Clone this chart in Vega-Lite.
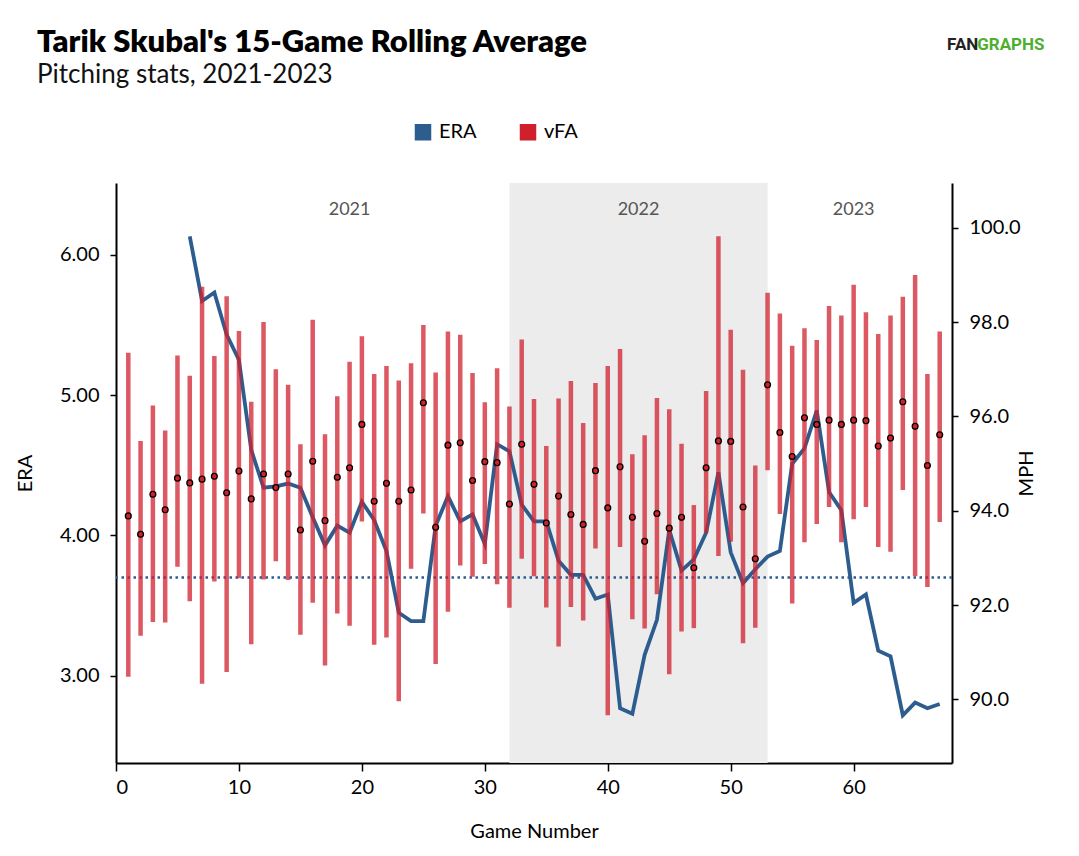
{
  "$schema": "https://vega.github.io/schema/vega-lite/v6.json",
  "width": 836,
  "height": 580,
  "autosize": {"type": "none"},
  "padding": {"left": 116, "top": 183, "right": 127, "bottom": 93},
  "background": "white",
  "title": {
    "text": "Tarik Skubal's 15-Game Rolling Average",
    "subtitle": "Pitching stats, 2021-2023",
    "anchor": "start",
    "frame": "group",
    "dx": -79,
    "offset": -53,
    "font": "Lato",
    "fontSize": 31,
    "fontWeight": 800,
    "color": "#000000",
    "subtitleFont": "Lato",
    "subtitleFontSize": 26,
    "subtitleColor": "#111111",
    "subtitlePadding": 3
  },
  "datasets": {
    "games": [
      {"g": 1, "era": null, "vfa": 93.89, "lo": 90.48, "hi": 97.35},
      {"g": 2, "era": null, "vfa": 93.50, "lo": 91.35, "hi": 95.48},
      {"g": 3, "era": null, "vfa": 94.35, "lo": 91.64, "hi": 96.23},
      {"g": 4, "era": null, "vfa": 94.02, "lo": 91.63, "hi": 95.70},
      {"g": 5, "era": null, "vfa": 94.69, "lo": 92.81, "hi": 97.29},
      {"g": 6, "era": 6.13, "vfa": 94.59, "lo": 92.08, "hi": 96.86},
      {"g": 7, "era": 5.67, "vfa": 94.67, "lo": 90.33, "hi": 98.75},
      {"g": 8, "era": 5.73, "vfa": 94.73, "lo": 92.50, "hi": 97.28},
      {"g": 9, "era": 5.43, "vfa": 94.38, "lo": 90.58, "hi": 98.55},
      {"g": 10, "era": 5.25, "vfa": 94.84, "lo": 92.57, "hi": 97.81},
      {"g": 11, "era": 4.61, "vfa": 94.25, "lo": 91.17, "hi": 96.31},
      {"g": 12, "era": 4.34, "vfa": 94.78, "lo": 92.54, "hi": 98.00},
      {"g": 13, "era": 4.35, "vfa": 94.49, "lo": 92.93, "hi": 97.00},
      {"g": 14, "era": 4.37, "vfa": 94.78, "lo": 92.53, "hi": 96.67},
      {"g": 15, "era": 4.34, "vfa": 93.59, "lo": 91.37, "hi": 95.41},
      {"g": 16, "era": 4.13, "vfa": 95.05, "lo": 92.05, "hi": 98.05},
      {"g": 17, "era": 3.93, "vfa": 93.79, "lo": 90.72, "hi": 95.62},
      {"g": 18, "era": 4.07, "vfa": 94.71, "lo": 91.82, "hi": 96.43},
      {"g": 19, "era": 4.02, "vfa": 94.91, "lo": 91.56, "hi": 97.16},
      {"g": 20, "era": 4.24, "vfa": 95.83, "lo": 93.77, "hi": 97.70},
      {"g": 21, "era": 4.11, "vfa": 94.20, "lo": 91.16, "hi": 96.90},
      {"g": 22, "era": 3.89, "vfa": 94.58, "lo": 91.31, "hi": 97.07},
      {"g": 23, "era": 3.45, "vfa": 94.20, "lo": 89.96, "hi": 96.76},
      {"g": 24, "era": 3.39, "vfa": 94.44, "lo": 92.77, "hi": 97.13},
      {"g": 25, "era": 3.39, "vfa": 96.29, "lo": 93.94, "hi": 97.94},
      {"g": 26, "era": 4.07, "vfa": 93.65, "lo": 90.75, "hi": 96.93},
      {"g": 27, "era": 4.28, "vfa": 95.39, "lo": 91.86, "hi": 97.80},
      {"g": 28, "era": 4.10, "vfa": 95.44, "lo": 92.84, "hi": 97.73},
      {"g": 29, "era": 4.15, "vfa": 94.64, "lo": 92.60, "hi": 96.92},
      {"g": 30, "era": 3.94, "vfa": 95.04, "lo": 92.87, "hi": 96.30},
      {"g": 31, "era": 4.65, "vfa": 95.02, "lo": 92.44, "hi": 97.02},
      {"g": 32, "era": 4.60, "vfa": 94.14, "lo": 91.94, "hi": 96.21},
      {"g": 33, "era": 4.22, "vfa": 95.41, "lo": 92.98, "hi": 97.63},
      {"g": 34, "era": 4.10, "vfa": 94.56, "lo": 92.61, "hi": 96.37},
      {"g": 35, "era": 4.10, "vfa": 93.74, "lo": 91.95, "hi": 95.37},
      {"g": 36, "era": 3.82, "vfa": 94.31, "lo": 91.12, "hi": 96.38},
      {"g": 37, "era": 3.72, "vfa": 93.92, "lo": 91.96, "hi": 96.75},
      {"g": 38, "era": 3.72, "vfa": 93.71, "lo": 91.67, "hi": 95.86},
      {"g": 39, "era": 3.55, "vfa": 94.85, "lo": 93.20, "hi": 96.71},
      {"g": 40, "era": 3.58, "vfa": 94.06, "lo": 89.66, "hi": 97.07},
      {"g": 41, "era": 2.77, "vfa": 94.93, "lo": 93.23, "hi": 97.43},
      {"g": 42, "era": 2.73, "vfa": 93.86, "lo": 91.70, "hi": 95.20},
      {"g": 43, "era": 3.15, "vfa": 93.35, "lo": 91.50, "hi": 95.60},
      {"g": 44, "era": 3.40, "vfa": 93.94, "lo": 92.23, "hi": 96.39},
      {"g": 45, "era": 4.04, "vfa": 93.63, "lo": 90.53, "hi": 96.15},
      {"g": 46, "era": 3.75, "vfa": 93.86, "lo": 91.44, "hi": 95.42},
      {"g": 47, "era": 3.83, "vfa": 92.79, "lo": 91.51, "hi": 94.12},
      {"g": 48, "era": 4.02, "vfa": 94.91, "lo": 93.53, "hi": 96.54},
      {"g": 49, "era": 4.45, "vfa": 95.48, "lo": 93.04, "hi": 99.82},
      {"g": 50, "era": 3.88, "vfa": 95.47, "lo": 93.34, "hi": 97.84},
      {"g": 51, "era": 3.66, "vfa": 94.08, "lo": 91.19, "hi": 96.99},
      {"g": 52, "era": 3.76, "vfa": 92.98, "lo": 91.52, "hi": 94.96},
      {"g": 53, "era": 3.85, "vfa": 96.67, "lo": 94.86, "hi": 98.62},
      {"g": 54, "era": 3.89, "vfa": 95.66, "lo": 93.93, "hi": 98.18},
      {"g": 55, "era": 4.51, "vfa": 95.15, "lo": 92.03, "hi": 97.50},
      {"g": 56, "era": 4.62, "vfa": 95.97, "lo": 93.33, "hi": 97.87},
      {"g": 57, "era": 4.89, "vfa": 95.83, "lo": 93.72, "hi": 97.62},
      {"g": 58, "era": 4.31, "vfa": 95.92, "lo": 94.08, "hi": 98.34},
      {"g": 59, "era": 4.18, "vfa": 95.83, "lo": 93.33, "hi": 98.14},
      {"g": 60, "era": 3.52, "vfa": 95.92, "lo": 93.82, "hi": 98.79},
      {"g": 61, "era": 3.58, "vfa": 95.91, "lo": 94.08, "hi": 98.21},
      {"g": 62, "era": 3.18, "vfa": 95.37, "lo": 93.23, "hi": 97.75},
      {"g": 63, "era": 3.14, "vfa": 95.54, "lo": 93.13, "hi": 98.14},
      {"g": 64, "era": 2.72, "vfa": 96.31, "lo": 94.44, "hi": 98.54},
      {"g": 65, "era": 2.81, "vfa": 95.79, "lo": 92.61, "hi": 99.00},
      {"g": 66, "era": 2.77, "vfa": 94.96, "lo": 92.38, "hi": 96.90},
      {"g": 67, "era": 2.80, "vfa": 95.61, "lo": 93.76, "hi": 97.80}
    ],
    "shade": [{"g": 32, "g2": 53}],
    "years": [
      {"year": "2021", "g": 19, "era": 6.32},
      {"year": "2022", "g": 42.5, "era": 6.32},
      {"year": "2023", "g": 60, "era": 6.32}
    ],
    "ref": [{"era": 3.70}],
    "logo": [
      {"part": "FAN", "g": 67.6, "era": 7.49},
      {"part": "GRAPHS", "g": 70.05, "era": 7.49}
    ]
  },
  "config": {
    "view": {"stroke": null},
    "axis": {
      "labelFont": "Lato",
      "titleFont": "Lato",
      "labelFontSize": 20,
      "titleFontSize": 20,
      "titleFontWeight": "normal",
      "labelColor": "#000000",
      "titleColor": "#000000",
      "domainColor": "#000000",
      "domainWidth": 2,
      "tickColor": "#000000",
      "tickWidth": 1.5,
      "tickSize": 7,
      "labelPadding": 6,
      "grid": false
    },
    "legend": {
      "orient": "none",
      "legendX": 297,
      "legendY": -61,
      "direction": "horizontal",
      "labelFont": "Lato",
      "labelFontSize": 20,
      "labelColor": "#000000",
      "labelOffset": 6,
      "columnPadding": 40,
      "symbolType": "square",
      "symbolSize": 225
    }
  },
  "encoding": {
    "x": {
      "field": "g",
      "type": "quantitative",
      "title": "Game Number",
      "scale": {"domain": [0, 68], "nice": false, "zero": false},
      "axis": {"values": [0, 10, 20, 30, 40, 50, 60], "titlePadding": 24, "tickSize": 8, "labelPadding": 6}
    }
  },
  "layer": [
    {
      "encoding": {
        "y": {
          "field": "era",
          "type": "quantitative",
          "title": "ERA",
          "scale": {"domain": [2.38, 6.51], "nice": false, "zero": false},
          "axis": {"values": [3, 4, 5, 6], "format": ".2f", "titlePadding": 24, "tickSize": 6, "labelPadding": 11}
        }
      },
      "layer": [
        {
          "data": {"name": "shade"},
          "mark": {"type": "rect", "color": "#ececec"},
          "encoding": {
            "x2": {"field": "g2"},
            "y": null
          }
        },
        {
          "data": {"name": "years"},
          "mark": {"type": "text", "font": "Lato", "fontSize": 18, "color": "#555555", "align": "center", "baseline": "middle"},
          "encoding": {"text": {"field": "year"}}
        },
        {
          "data": {"name": "logo"},
          "mark": {"type": "text", "font": "Roboto", "fontWeight": "bold", "fontSize": 17, "align": "left", "baseline": "middle"},
          "encoding": {
            "text": {"field": "part"},
            "color": {"field": "part", "type": "nominal", "scale": {"domain": ["FAN", "GRAPHS"], "range": ["#222222", "#4caf2e"]}, "legend": null}
          }
        },
        {
          "data": {"name": "games"},
          "transform": [{"filter": "datum.era != null"}],
          "mark": {"type": "line", "strokeWidth": 3.8, "strokeJoin": "miter"},
          "encoding": {
            "stroke": {
              "datum": "ERA",
              "type": "nominal",
              "scale": {"domain": ["ERA", "vFA"], "range": ["#2d5d8f", "#d0202e"]},
              "legend": {
                "title": null,
                "encode": {
                  "symbols": {
                    "update": {
                      "fill": {"scale": "stroke", "field": "value"},
                      "stroke": {"value": "transparent"},
                      "opacity": {"value": 1},
                      "shape": {"value": "square"}
                    }
                  }
                }
              }
            }
          }
        },
        {
          "data": {"name": "ref"},
          "mark": {"type": "rule", "color": "#2d5d8f", "strokeWidth": 2.5, "strokeDash": [2.5, 3.5]},
          "encoding": {"x": null}
        }
      ]
    },
    {
      "data": {"name": "games"},
      "encoding": {
        "y": {
          "field": "vfa",
          "type": "quantitative",
          "title": "MPH",
          "scale": {"domain": [88.65, 100.95], "nice": false, "zero": false},
          "axis": {"orient": "right", "values": [90, 92, 94, 96, 98, 100], "format": ".1f", "titlePadding": 16, "tickSize": 6, "labelPadding": 11, "titleAngle": 270}
        }
      },
      "layer": [
        {
          "mark": {"type": "rule", "strokeWidth": 4.5, "opacity": 0.75},
          "encoding": {
            "y": {"field": "lo", "type": "quantitative", "title": "MPH", "scale": {"domain": [88.65, 100.95], "nice": false, "zero": false}, "axis": {"orient": "right", "values": [90, 92, 94, 96, 98, 100], "format": ".1f", "titlePadding": 16, "tickSize": 6, "labelPadding": 11, "titleAngle": 270}},
            "y2": {"field": "hi"},
            "stroke": {"datum": "vFA", "type": "nominal"}
          }
        },
        {
          "mark": {"type": "point", "filled": true, "fill": "#d0202e", "stroke": "#000000", "strokeWidth": 1.3, "size": 34, "opacity": 1}
        }
      ]
    }
  ],
  "resolve": {"scale": {"y": "independent"}, "axis": {"y": "independent"}}
}
